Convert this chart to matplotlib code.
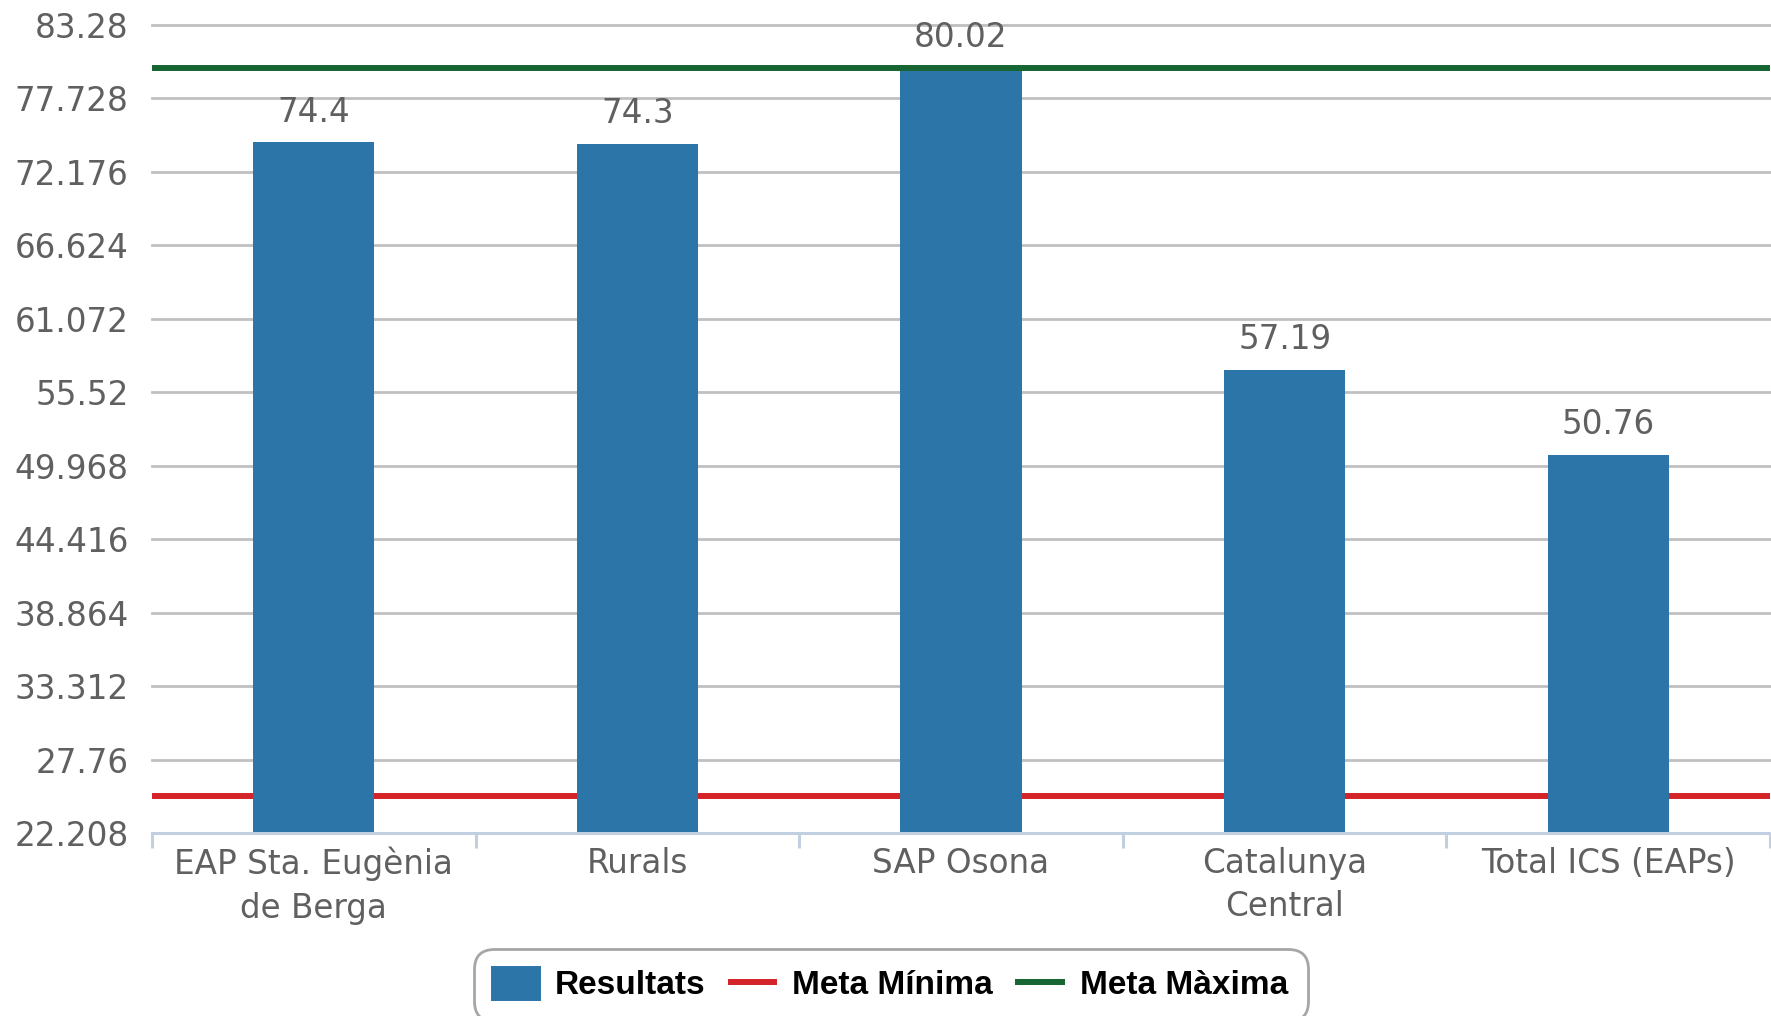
import numpy as np
import matplotlib
matplotlib.use("Agg")
import matplotlib.pyplot as plt
from matplotlib.patches import Patch
from matplotlib.lines import Line2D

categories = ["EAP Sta. Eugènia\nde Berga", "Rurals", "SAP Osona", "Catalunya\nCentral", "Total ICS (EAPs)"]
resultats = [74.4, 74.3, 80.02, 57.19, 50.76]
value_labels = ["74.4", "74.3", "80.02", "57.19", "50.76"]
meta_minima = 25.0
meta_maxima = 80.0
y_ticks = [22.208, 27.76, 33.312, 38.864, 44.416, 49.968, 55.52, 61.072, 66.624, 72.176, 77.728, 83.28]
y_tick_labels = ["22.208", "27.76", "33.312", "38.864", "44.416", "49.968", "55.52", "61.072",
                 "66.624", "72.176", "77.728", "83.28"]

BLUE = "#2b75a9"
RED = "#d42428"
GREEN = "#176533"
GRID = "#c0c0c0"
AXIS = "#c0d0e0"
TEXT = "#606060"
FS = 23.5

plt.rcParams["font.family"] = ["DejaVu Sans"]

fig = plt.figure(figsize=(17.71, 10.16), dpi=100)
ax = fig.add_axes([152 / 1771, 1 - 833 / 1016, 1618 / 1771, 808 / 1016])

x = np.arange(len(categories))
bars = ax.bar(x, resultats, width=0.374, color=BLUE, zorder=2, bottom=0)
ax.bar_label(bars, labels=value_labels, padding=10, fontsize=FS, color=TEXT)

ax.axhline(meta_minima, color=RED, linewidth=4.3, zorder=1.5)
ax.axhline(meta_maxima, color=GREEN, linewidth=4.3, zorder=3)

ax.set_xlim(-0.5, len(categories) - 0.5)
ax.set_ylim(y_ticks[0], y_ticks[-1])
ax.set_yticks(y_ticks)
ax.set_yticklabels(y_tick_labels, fontsize=FS, color=TEXT)
ax.tick_params(axis="y", length=0, pad=17)
ax.yaxis.grid(True, color=GRID, linewidth=2, zorder=0)
for gl in ax.get_ygridlines():
    gl.set_clip_on(False)
ax.set_axisbelow(True)

# category boundaries carry the tick marks, centres carry the labels
ax.set_xticks(np.arange(len(categories) + 1) - 0.5)
ax.set_xticklabels([])
ax.tick_params(axis="x", which="major", length=11, width=2.2, color=AXIS)
ax.set_xticks(x, minor=True)
ax.set_xticklabels(categories, minor=True, fontsize=FS, color=TEXT, linespacing=1.4)
ax.tick_params(axis="x", which="minor", length=0, pad=10)

for side in ["top", "right", "left"]:
    ax.spines[side].set_visible(False)
ax.spines["bottom"].set_color(AXIS)
ax.spines["bottom"].set_linewidth(2.2)
ax.spines["bottom"].set_zorder(2.5)

handles = [
    Patch(facecolor=BLUE, edgecolor=BLUE, linewidth=5, joinstyle="round"),
    Line2D([0], [0], color=RED, linewidth=4.3),
    Line2D([0], [0], color=GREEN, linewidth=4.3),
]
leg = fig.legend(handles, ["Resultats", "Meta Mínima", "Meta Màxima"],
                 loc="upper center", bbox_to_anchor=(0.503, 1 - 949 / 1016),
                 ncol=3, frameon=True, fancybox=True, handlelength=1.3,
                 handleheight=0.9, handletextpad=0.55, columnspacing=0.75,
                 borderpad=0.6, borderaxespad=0,
                 prop={"family": "Liberation Sans", "weight": "bold", "size": 24})
frame = leg.get_frame()
frame.set_edgecolor("#909090")
frame.set_linewidth(2)
frame.set_boxstyle("round,pad=0,rounding_size=0.6")
for t in leg.get_texts():
    t.set_color("black")

fig.savefig("out.png", dpi=100)
